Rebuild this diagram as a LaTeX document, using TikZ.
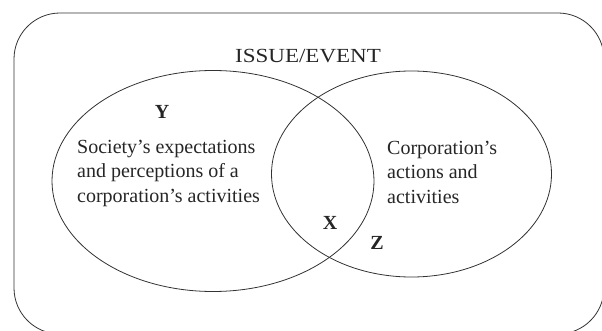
\documentclass[tikz,border=0pt]{standalone}
\usepackage{fontspec}
\setmainfont{Liberation Serif}
\usetikzlibrary{shapes.geometric}
\begin{document}
\begin{tikzpicture}[x=1pt,y=-1pt,
  shape line/.style={draw=black!80, line width=0.8pt},
  txt/.style={font=\fontsize{20}{24.5}\selectfont, text=black!85, inner sep=0pt},
  lbl/.style={font=\fontsize{20}{24}\selectfont\bfseries, text=black!85, inner sep=0pt}]
\useasboundingbox (0,0) rectangle (602,331);
\clip (0,0) rectangle (602,331);
\draw[shape line, rounded corners=46pt] (14,13) rectangle (604,334);
\node[shape line, ellipse, minimum width=322pt, minimum height=221pt, inner sep=0pt] (soc) at (213,181) {};
\node[shape line, ellipse, minimum width=280pt, minimum height=206pt, inner sep=0pt] (corp) at (411.5,174) {};
\node[txt, xscale=1.15] (issue) at (308,56) {ISSUE/EVENT};
\node[txt, anchor=west, align=left] (soctext) at (77,173) {Society's expectations\\and perceptions of a\\corporation's activities};
\node[txt, anchor=west, align=left] (corptext) at (387,172) {Corporation's\\actions and\\activities};
\node[lbl] (y) at (162,112) {Y};
\node[lbl] (x) at (330,223) {X};
\node[lbl] (z) at (377,243) {Z};
\end{tikzpicture}
\end{document}
